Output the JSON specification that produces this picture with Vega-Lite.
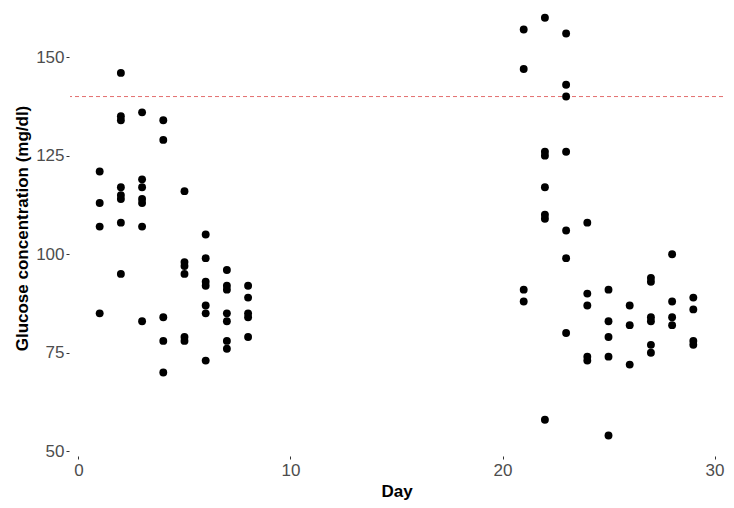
{
  "$schema": "https://vega.github.io/schema/vega-lite/v6.json",
  "width": 653,
  "height": 456,
  "autosize": {"type": "none"},
  "padding": {"left": 70, "top": 0, "right": 11, "bottom": 52},
  "background": "white",
  "config": {
    "view": {"stroke": null},
    "font": "Liberation Sans",
    "axis": {
      "grid": false,
      "domain": false,
      "tickColor": "#333333",
      "tickSize": 3,
      "labelColor": "#4D4D4D",
      "labelFont": "Liberation Sans",
      "labelFontSize": 17,
      "titleFont": "Liberation Sans",
      "titleFontSize": 17,
      "titleFontWeight": "bold",
      "titleColor": "black"
    }
  },
  "datasets": {
    "pts": [
      {"Day": 1, "Glucose": 121}, {"Day": 1, "Glucose": 113}, {"Day": 1, "Glucose": 107}, {"Day": 1, "Glucose": 85},
      {"Day": 2, "Glucose": 146}, {"Day": 2, "Glucose": 135}, {"Day": 2, "Glucose": 134}, {"Day": 2, "Glucose": 117}, {"Day": 2, "Glucose": 115}, {"Day": 2, "Glucose": 114}, {"Day": 2, "Glucose": 108}, {"Day": 2, "Glucose": 95},
      {"Day": 3, "Glucose": 136}, {"Day": 3, "Glucose": 119}, {"Day": 3, "Glucose": 117}, {"Day": 3, "Glucose": 114}, {"Day": 3, "Glucose": 113}, {"Day": 3, "Glucose": 107}, {"Day": 3, "Glucose": 83},
      {"Day": 4, "Glucose": 134}, {"Day": 4, "Glucose": 129}, {"Day": 4, "Glucose": 84}, {"Day": 4, "Glucose": 78}, {"Day": 4, "Glucose": 70},
      {"Day": 5, "Glucose": 116}, {"Day": 5, "Glucose": 98}, {"Day": 5, "Glucose": 97}, {"Day": 5, "Glucose": 95}, {"Day": 5, "Glucose": 79}, {"Day": 5, "Glucose": 78},
      {"Day": 6, "Glucose": 105}, {"Day": 6, "Glucose": 99}, {"Day": 6, "Glucose": 93}, {"Day": 6, "Glucose": 92}, {"Day": 6, "Glucose": 87}, {"Day": 6, "Glucose": 85}, {"Day": 6, "Glucose": 73},
      {"Day": 7, "Glucose": 96}, {"Day": 7, "Glucose": 92}, {"Day": 7, "Glucose": 91}, {"Day": 7, "Glucose": 85}, {"Day": 7, "Glucose": 83}, {"Day": 7, "Glucose": 78}, {"Day": 7, "Glucose": 76},
      {"Day": 8, "Glucose": 92}, {"Day": 8, "Glucose": 89}, {"Day": 8, "Glucose": 85}, {"Day": 8, "Glucose": 84}, {"Day": 8, "Glucose": 79},
      {"Day": 21, "Glucose": 157}, {"Day": 21, "Glucose": 147}, {"Day": 21, "Glucose": 91}, {"Day": 21, "Glucose": 88},
      {"Day": 22, "Glucose": 160}, {"Day": 22, "Glucose": 126}, {"Day": 22, "Glucose": 125}, {"Day": 22, "Glucose": 117}, {"Day": 22, "Glucose": 110}, {"Day": 22, "Glucose": 109}, {"Day": 22, "Glucose": 58},
      {"Day": 23, "Glucose": 156}, {"Day": 23, "Glucose": 143}, {"Day": 23, "Glucose": 140}, {"Day": 23, "Glucose": 126}, {"Day": 23, "Glucose": 106}, {"Day": 23, "Glucose": 99}, {"Day": 23, "Glucose": 80},
      {"Day": 24, "Glucose": 108}, {"Day": 24, "Glucose": 90}, {"Day": 24, "Glucose": 87}, {"Day": 24, "Glucose": 74}, {"Day": 24, "Glucose": 73},
      {"Day": 25, "Glucose": 91}, {"Day": 25, "Glucose": 83}, {"Day": 25, "Glucose": 79}, {"Day": 25, "Glucose": 74}, {"Day": 25, "Glucose": 54},
      {"Day": 26, "Glucose": 87}, {"Day": 26, "Glucose": 82}, {"Day": 26, "Glucose": 72},
      {"Day": 27, "Glucose": 94}, {"Day": 27, "Glucose": 93}, {"Day": 27, "Glucose": 84}, {"Day": 27, "Glucose": 83}, {"Day": 27, "Glucose": 77}, {"Day": 27, "Glucose": 75},
      {"Day": 28, "Glucose": 100}, {"Day": 28, "Glucose": 88}, {"Day": 28, "Glucose": 84}, {"Day": 28, "Glucose": 82},
      {"Day": 29, "Glucose": 89}, {"Day": 29, "Glucose": 86}, {"Day": 29, "Glucose": 78}, {"Day": 29, "Glucose": 77}
    ],
    "thr": [{"threshold": 140}]
  },
  "layer": [
    {
      "data": {"name": "thr"},
      "mark": {"type": "rule", "color": "#E36F6F", "strokeWidth": 1, "strokeDash": [4, 3]},
      "encoding": {"y": {"field": "threshold", "type": "quantitative"}}
    },
    {
      "data": {"name": "pts"},
      "mark": {"type": "circle", "color": "black", "opacity": 1, "size": 62},
      "encoding": {
        "x": {
          "field": "Day", "type": "quantitative",
          "scale": {"domain": [-0.4, 30.4], "nice": false, "zero": false},
          "axis": {"values": [0, 10, 20, 30], "title": "Day", "labelPadding": 3, "titlePadding": 5}
        },
        "y": {
          "field": "Glucose", "type": "quantitative",
          "scale": {"domain": [48.8, 164.5], "nice": false, "zero": false},
          "axis": {"values": [50, 75, 100, 125, 150], "title": "Glucose concentration (mg/dl)", "offset": 1, "labelPadding": 2, "titlePadding": 4}
        }
      }
    }
  ]
}
